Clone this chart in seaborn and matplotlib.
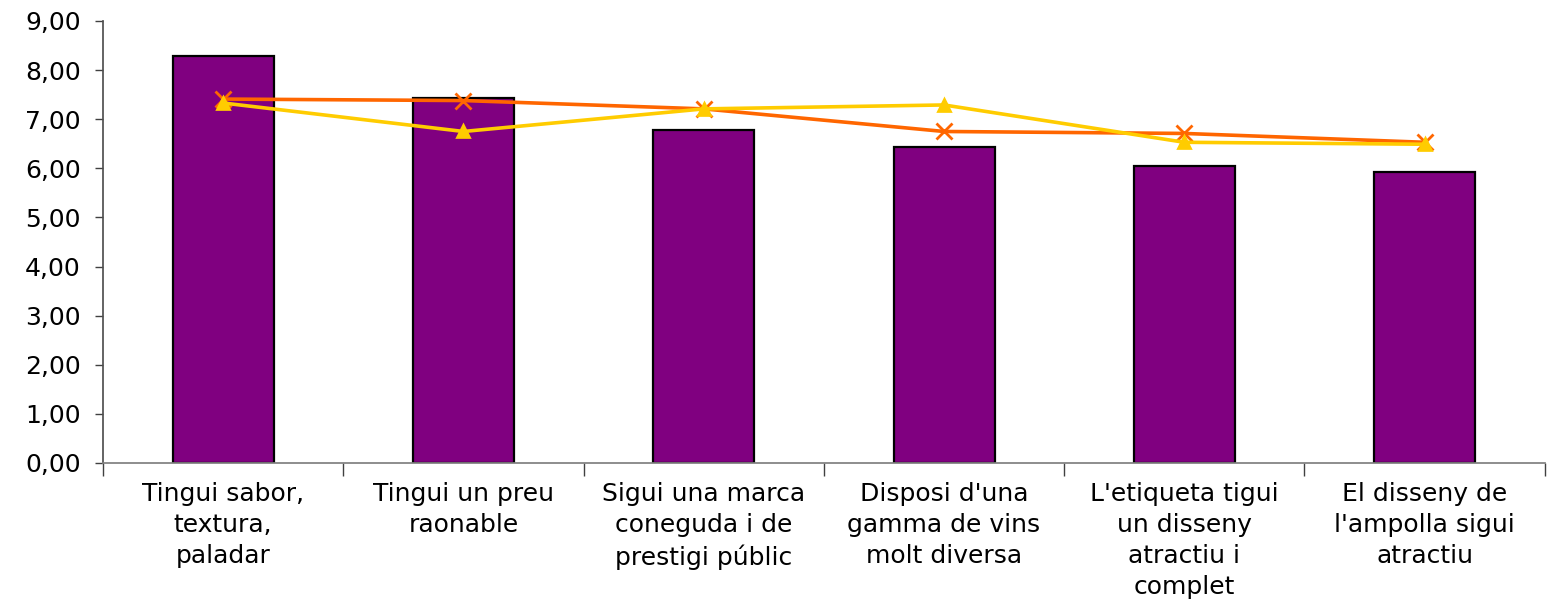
import numpy as np
import pandas as pd
import matplotlib
matplotlib.use("Agg")
import matplotlib.pyplot as plt
import matplotlib.ticker as ticker
import seaborn as sns

sns.set_theme(style="white")
plt.rcParams["font.family"] = ["DejaVu Sans"]
plt.rcParams["font.size"] = 18
plt.rcParams["text.color"] = "black"
plt.rcParams["xtick.color"] = "black"
plt.rcParams["ytick.color"] = "black"

categories = [
    "Tingui sabor,\ntextura,\npaladar",
    "Tingui un preu\nraonable",
    "Sigui una marca\nconeguda i de\nprestigi públic",
    "Disposi d'una\ngamma de vins\nmolt diversa",
    "L'etiqueta tigui\nun disseny\natractiu i\ncomplet",
    "El disseny de\nl'ampolla sigui\natractiu",
]
bar_values = [8.28, 7.43, 6.78, 6.44, 6.05, 5.93]
orange_values = [7.41, 7.38, 7.21, 6.75, 6.71, 6.53]
yellow_values = [7.33, 6.75, 7.21, 7.29, 6.53, 6.49]

df = pd.DataFrame({"cat": categories, "bar": bar_values,
                   "orange": orange_values, "yellow": yellow_values})

fig = plt.figure(figsize=(15.51, 6.08), dpi=100)
ax = fig.add_axes([0.0664, 0.2385, 0.9296, 0.727])

sns.barplot(data=df, x="cat", y="bar", ax=ax, color="#800080",
            saturation=1, width=0.42, edgecolor="black", linewidth=1.6)
sns.pointplot(data=df, x="cat", y="orange", ax=ax, color="#FF6600",
              marker="x", markersize=11, markeredgewidth=2, linewidth=2.6)
sns.pointplot(data=df, x="cat", y="yellow", ax=ax, color="#FFCC00",
              marker="^", markersize=8, linewidth=2.6)

ax.set_xlim(-0.5, 5.5)
ax.set_ylim(0, 9)
ax.set_yticks(np.arange(0, 10, 1))
ax.yaxis.set_major_formatter(ticker.FuncFormatter(lambda v, _: f"{v:.2f}".replace(".", ",")))
ax.set_xticks(range(len(categories)))
ax.set_xticklabels(categories, linespacing=1.36, va="top")
ax.set_xticks(np.arange(-0.5, 6, 1), minor=True)
ax.tick_params(axis="x", which="major", length=0, pad=14, labelsize=18)
ax.tick_params(axis="x", which="minor", length=9, width=1, color="#404040", direction="out", bottom=True)
ax.tick_params(axis="y", length=6, width=1, color="#404040", direction="out", left=True, labelsize=18, pad=10)
ax.set_xlabel("")
ax.set_ylabel("")

for side in ["top", "right"]:
    ax.spines[side].set_visible(False)
ax.spines["left"].set_color("#505050")
ax.spines["bottom"].set_color("#808080")

fig.savefig("out.png", dpi=100)
